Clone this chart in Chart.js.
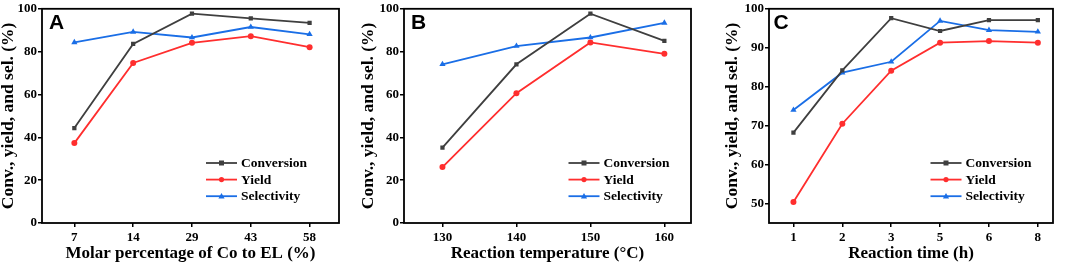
<!DOCTYPE html>
<html>
<head>
<meta charset="utf-8">
<script src="https://cdn.jsdelivr.net/npm/chart.js@4/dist/chart.umd.min.js"></script>
<style>
  html, body { margin: 0; padding: 0; background: #fff; }
  #wrap { position: relative; width: 1065px; height: 267px; }
  .panel { position: absolute; top: 0; width: 355px; height: 267px; }
</style>
</head>
<body>
<div id="wrap">
  <div class="panel" style="left:0"><canvas id="chartA" width="355" height="267"></canvas></div>
  <div class="panel" style="left:355px"><canvas id="chartB" width="355" height="267"></canvas></div>
  <div class="panel" style="left:710px"><canvas id="chartC" width="355" height="267"></canvas></div>
</div>
<script>
// panel A - Co loading
const coLabels = ['7', '14', '29', '43', '58'];
const coConversion = [44.3, 83.6, 97.7, 95.5, 93.4];
const coYield = [37.3, 74.7, 84.1, 87.2, 82.1];
const coSelectivity = [84.3, 89.2, 86.6, 91.5, 88.1];

// panel B - temperature
const tempValues = [130, 140, 150, 160];
const tempConversion = [35.2, 74.1, 97.7, 85.0];
const tempYield = [26.1, 60.6, 84.3, 79.0];
const tempSelectivity = [74.1, 82.6, 86.6, 93.4];

// panel C - time
const timeLabels = ['1', '2', '3', '5', '6', '8'];
const timeConversion = [68.2, 84.2, 97.6, 94.3, 97.1, 97.1];
const timeYield = [50.4, 70.5, 84.1, 91.3, 91.7, 91.3];
const timeSelectivity = [74.0, 83.6, 86.4, 96.9, 94.5, 94.1];

const yTicksAB = [0, 20, 40, 60, 80, 100];
const yTicksC = [50, 60, 70, 80, 90, 100];

const seriesNames = ['Conversion', 'Yield', 'Selectivity'];
const seriesColors = ['#3f3f3f', '#ff2e2e', '#1a6ee6'];
const seriesPoints = ['rect', 'circle', 'triangle'];

const serif = '"Liberation Serif", "Times New Roman", serif';

function makeDatasets(xs, conv, yld, sel) {
    return [conv, yld, sel].map((vals, k) => ({
        label: seriesNames[k],
        data: vals.map((v, i) => ({ x: xs[i], y: v })),
        borderColor: seriesColors[k],
        backgroundColor: seriesColors[k],
        borderWidth: 1.8,
        pointStyle: seriesPoints[k],
        pointRadius: k === 2 ? 3.6 : 3,
        pointBorderWidth: 0,
        tension: 0
    }));
}

// frame, panel letter and the little legend in the lower right
const framePlugin = {
    id: 'frame',
    afterDraw(chart) {
        const ctx = chart.ctx;
        const a = chart.chartArea;
        const o = chart.options.plugins.frame;
        ctx.save();
        ctx.strokeStyle = '#000';
        ctx.lineWidth = 1.8;
        ctx.strokeRect(a.left, a.top, a.right - a.left, a.bottom - a.top);

        ctx.fillStyle = '#000';
        ctx.font = 'bold 21px "Liberation Sans", Arial, sans-serif';
        ctx.textBaseline = 'top';
        ctx.textAlign = 'left';
        ctx.fillText(o.letter, a.left + o.letterDx, a.top + 4);

        ctx.font = 'bold 13.5px ' + serif;
        ctx.textBaseline = 'middle';
        for (let k = 0; k < 3; k++) {
            const y = a.bottom - 60 + k * 16.6;
            const x0 = a.right - o.legendDx;
            ctx.strokeStyle = seriesColors[k];
            ctx.lineWidth = 1.8;
            ctx.beginPath();
            ctx.moveTo(x0, y);
            ctx.lineTo(x0 + 31, y);
            ctx.stroke();
            ctx.fillStyle = seriesColors[k];
            ctx.beginPath();
            if (k === 0) ctx.rect(x0 + 13, y - 2.5, 5, 5);
            else if (k === 1) ctx.arc(x0 + 15.5, y, 2.6, 0, Math.PI * 2);
            else { ctx.moveTo(x0 + 15.5, y - 3.2); ctx.lineTo(x0 + 18.6, y + 2.2); ctx.lineTo(x0 + 12.4, y + 2.2); ctx.closePath(); }
            ctx.fill();
            ctx.fillStyle = '#000';
            ctx.fillText(seriesNames[k], x0 + 35, y + 0.5);
        }
        ctx.restore();
    }
};

function makeChart(id, cfg) {
    const xTickVals = cfg.xTicks;
    return new Chart(document.getElementById(id), {
        type: 'line',
        data: { datasets: cfg.datasets },
        options: {
            responsive: false,
            animation: false,
            layout: { padding: { top: 7, right: cfg.padRight, left: 0, bottom: 0 } },
            plugins: {
                legend: { display: false },
                tooltip: { enabled: false },
                frame: { letter: cfg.letter, letterDx: cfg.letterDx, legendDx: cfg.legendDx }
            },
            scales: {
                x: {
                    type: 'linear',
                    min: cfg.xMin,
                    max: cfg.xMax,
                    afterBuildTicks: s => { s.ticks = xTickVals.map(v => ({ value: v })); },
                    afterFit: s => { s.height = 44; },
                    border: { display: false },
                    grid: { drawOnChartArea: false, drawTicks: true, tickLength: 4, color: '#000', lineWidth: 1.5 },
                    ticks: {
                        color: '#000',
                        padding: 2.5,
                        maxRotation: 0,
                        font: { family: serif, size: 13, weight: 'bold' },
                        callback: v => cfg.xLabel(v)
                    },
                    title: {
                        display: true,
                        text: cfg.xTitle,
                        color: '#000',
                        padding: { top: 0, bottom: 5 },
                        font: { family: serif, size: 17, weight: 'bold', lineHeight: 1 }
                    }
                },
                y: {
                    min: cfg.yMin,
                    max: 100,
                    afterBuildTicks: s => { s.ticks = cfg.yTicks.map(v => ({ value: v })); },
                    afterFit: s => { s.width = cfg.yWidth; },
                    border: { display: false },
                    grid: { drawOnChartArea: false, drawTicks: true, tickLength: 4, color: '#000', lineWidth: 1.5 },
                    ticks: {
                        color: '#000',
                        padding: 1,
                        font: { family: serif, size: 13, weight: 'bold' }
                    },
                    title: {
                        display: true,
                        text: 'Conv., yield, and sel. (%)',
                        color: '#000',
                        padding: { top: cfg.yTitlePad, bottom: 0 },
                        font: { family: serif, size: 17.5, weight: 'bold', lineHeight: 1 }
                    }
                }
            }
        },
        plugins: [framePlugin]
    });
}

const coIdx = coLabels.map((_, i) => i);
const timeIdx = timeLabels.map((_, i) => i);

makeChart('chartA', {
    datasets: makeDatasets(coIdx, coConversion, coYield, coSelectivity),
    xTicks: coIdx, xMin: -0.55, xMax: 4.5, xLabel: v => coLabels[v],
    xTitle: 'Molar percentage of Co to EL (%)',
    yMin: 0, yTicks: yTicksAB, yWidth: 42, yTitlePad: 0, padRight: 16,
    letter: 'A', letterDx: 7, legendDx: 133
});

makeChart('chartB', {
    datasets: makeDatasets(tempValues, tempConversion, tempYield, tempSelectivity),
    xTicks: tempValues, xMin: 124.8, xMax: 163.6, xLabel: v => String(v),
    xTitle: 'Reaction temperature (°C)',
    yMin: 0, yTicks: yTicksAB, yWidth: 49, yTitlePad: 5.2, padRight: 19,
    letter: 'B', letterDx: 7, legendDx: 122.5
});

makeChart('chartC', {
    datasets: makeDatasets(timeIdx, timeConversion, timeYield, timeSelectivity),
    xTicks: timeIdx, xMin: -0.5, xMax: 5.31, xLabel: v => timeLabels[v],
    xTitle: 'Reaction time (h)',
    yMin: 45, yTicks: yTicksC, yWidth: 59, yTitlePad: 13.7, padRight: 12,
    letter: 'C', letterDx: 4.5, legendDx: 122.5
});
</script>
</body>
</html>
